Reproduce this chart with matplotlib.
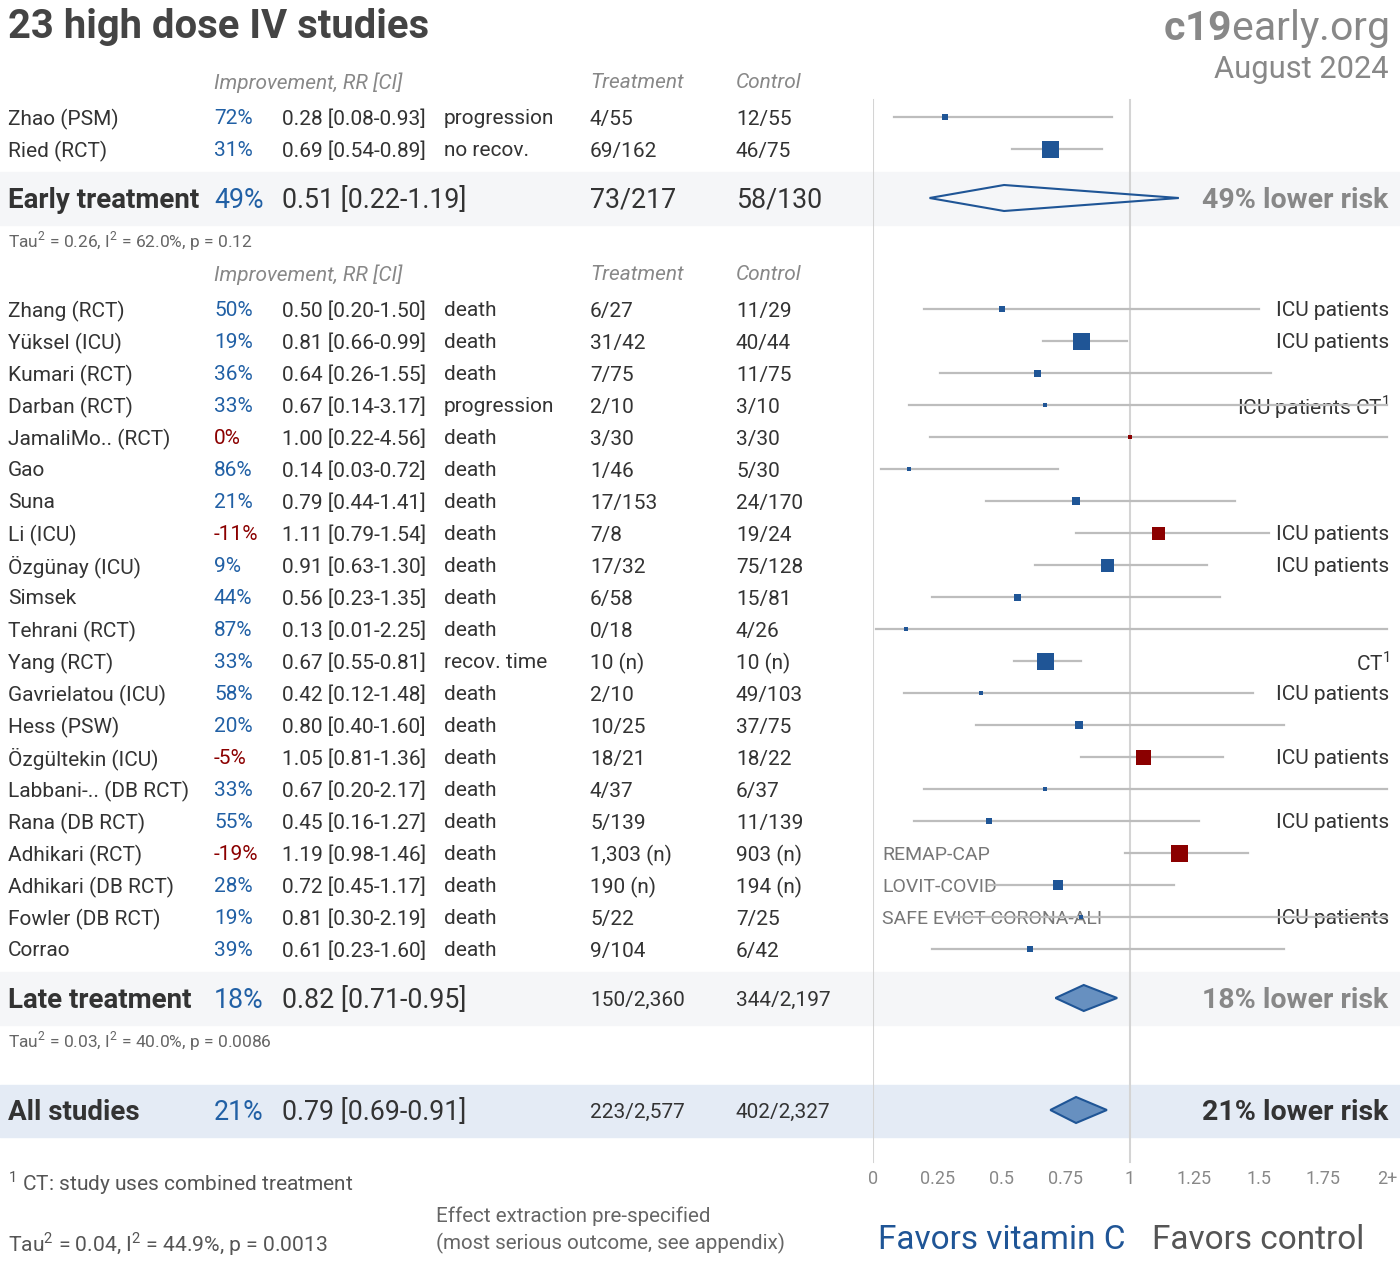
import matplotlib.pyplot as plt

plt.rcParams['font.family'] = ['Roboto', 'DejaVu Sans']
plt.rcParams['mathtext.fontset'] = 'custom'
plt.rcParams['mathtext.rm'] = 'Roboto'
plt.rcParams['mathtext.bf'] = 'Roboto:bold'

# early treatment studies
early_names = ['Zhao (PSM)', 'Ried (RCT)']
early_rr = [0.28, 0.69]
early_lo = [0.08, 0.54]
early_hi = [0.93, 0.89]
early_outcome = ['progression', 'no recov.']
early_treat = ['4/55', '69/162']
early_ctrl = ['12/55', '46/75']

# late treatment studies
late_names = ['Zhang (RCT)', 'Yüksel (ICU)', 'Kumari (RCT)', 'Darban (RCT)',
              'JamaliMo.. (RCT)', 'Gao', 'Suna', 'Li (ICU)', 'Özgünay (ICU)',
              'Simsek', 'Tehrani (RCT)', 'Yang (RCT)', 'Gavrielatou (ICU)',
              'Hess (PSW)', 'Özgültekin (ICU)', 'Labbani-.. (DB RCT)',
              'Rana (DB RCT)', 'Adhikari (RCT)', 'Adhikari (DB RCT)',
              'Fowler (DB RCT)', 'Corrao']
late_rr = [0.50, 0.81, 0.64, 0.67, 1.00, 0.14, 0.79, 1.11, 0.91, 0.56, 0.13,
           0.67, 0.42, 0.80, 1.05, 0.67, 0.45, 1.19, 0.72, 0.81, 0.61]
late_lo = [0.20, 0.66, 0.26, 0.14, 0.22, 0.03, 0.44, 0.79, 0.63, 0.23, 0.01,
           0.55, 0.12, 0.40, 0.81, 0.20, 0.16, 0.98, 0.45, 0.30, 0.23]
late_hi = [1.50, 0.99, 1.55, 3.17, 4.56, 0.72, 1.41, 1.54, 1.30, 1.35, 2.25,
           0.81, 1.48, 1.60, 1.36, 2.17, 1.27, 1.46, 1.17, 2.19, 1.60]
late_outcome = ['death', 'death', 'death', 'progression', 'death', 'death',
                'death', 'death', 'death', 'death', 'death', 'recov. time',
                'death', 'death', 'death', 'death', 'death', 'death', 'death',
                'death', 'death']
late_treat = ['6/27', '31/42', '7/75', '2/10', '3/30', '1/46', '17/153', '7/8',
              '17/32', '6/58', '0/18', '10 (n)', '2/10', '10/25', '18/21',
              '4/37', '5/139', '1,303 (n)', '190 (n)', '5/22', '9/104']
late_ctrl = ['11/29', '40/44', '11/75', '3/10', '3/30', '5/30', '24/170',
             '19/24', '75/128', '15/81', '4/26', '10 (n)', '49/103', '37/75',
             '18/22', '6/37', '11/139', '903 (n)', '194 (n)', '7/25', '6/42']
late_note_right = ['ICU patients', 'ICU patients', '', 'ICU patients CT$^1$', '',
                   '', '', 'ICU patients', 'ICU patients', '', '', 'CT$^1$',
                   'ICU patients', '', 'ICU patients', '', 'ICU patients', '',
                   '', 'ICU patients', '']
late_note_left = [''] * 17 + ['REMAP-CAP', 'LOVIT-COVID',
                              'SAFE EVICT CORONA-ALI', '']

# pooled results
pooled_labels = ['Early treatment', 'Late treatment', 'All studies']
pooled_rr = [0.51, 0.82, 0.79]
pooled_lo = [0.22, 0.71, 0.69]
pooled_hi = [1.19, 0.95, 0.91]
pooled_treat = ['73/217', '150/2,360', '223/2,577']
pooled_ctrl = ['58/130', '344/2,197', '402/2,327']
pooled_stats = ['Tau$^2$ = 0.26, I$^2$ = 62.0%, p = 0.12',
                'Tau$^2$ = 0.03, I$^2$ = 40.0%, p = 0.0086',
                'Tau$^2$ = 0.04, I$^2$ = 44.9%, p = 0.0013']

tick_vals = [0, 0.25, 0.5, 0.75, 1, 1.25, 1.5, 1.75, 2]
tick_labels = ['0', '0.25', '0.5', '0.75', '1', '1.25', '1.5', '1.75', '2+']

# box side in pixels (study weight)
early_box = [6, 17]
late_box = [6, 17, 7, 5, 5, 5, 8, 13, 13, 7, 4, 17, 5, 8, 15, 5, 6, 17, 10, 5, 6]

BLUE = '#1f5596'
PCT_BLUE = '#2160a5'
RED = '#8b0000'
DARK = '#333333'
GRAY = '#888888'
LINE = '#bdbdbd'

W, H = 1400, 1261
fig = plt.figure(figsize=(W / 100, H / 100), dpi=100)
ax = fig.add_axes([0, 0, 1, 1])
ax.set_xlim(0, W)
ax.set_ylim(H, 0)
ax.axis('off')

fx = fig.add_axes([873 / W, 0, 514 / W, 1])
fx.set_xlim(0, 2)
fx.set_ylim(H, 0)
fx.axis('off')
fx.patch.set_visible(False)


def txt(x, y, s, **kw):
    # text sits ~2px low in the original, relative to row centre
    kw.setdefault('va', 'center')
    return ax.text(x, y + 2, s, **kw)


# title / logo
txt(8, 25, '23 high dose IV studies', fontsize=28.8, fontweight='bold',
    color='#444444')
txt(1389, 26, r'$\mathbf{c19}$early.org', fontsize=29.5, color=GRAY, ha='right')
txt(1389, 67, 'August 2024', fontsize=22.2, color=GRAY, ha='right')

# bands
ax.axhspan(172, 225, color='#f5f6f8', zorder=0)
ax.axhspan(972, 1025, color='#f5f6f8', zorder=0)
ax.axhspan(1085, 1137, color='#e4ebf5', zorder=0)

# reference lines
fx.plot([0, 0], [100, 1162], color='#d4d4d4', lw=1.5, zorder=1)
fx.plot([1, 1], [100, 1162], color='#d4d4d4', lw=1.5, zorder=1)

cols = [214, 282, 444, 590, 736]


def header(y):
    for x, s in zip([cols[0], cols[3], cols[4]],
                    ['Improvement, RR [CI]', 'Treatment', 'Control']):
        txt(x, y, s, fontsize=15, fontstyle='italic', color=GRAY)


def study_rows(y0, names, rr, lo, hi, outcome, treat, ctrl, box):
    for i, name in enumerate(names):
        y = y0 + 32 * i
        pct = round((1 - rr[i]) * 100)
        txt(8, y, name, fontsize=15, color=DARK)
        txt(cols[0], y, f'{pct}%', fontsize=15,
            color=PCT_BLUE if pct > 0 else RED)
        txt(cols[1], y, f'{rr[i]:.2f} [{lo[i]:.2f}-{hi[i]:.2f}]',
            fontsize=15, color=DARK)
        txt(cols[2], y, outcome[i], fontsize=15, color=DARK)
        txt(cols[3], y, treat[i], fontsize=15, color=DARK)
        txt(cols[4], y, ctrl[i], fontsize=15, color=DARK)
        fx.plot([lo[i], min(hi[i], 2)], [y, y], color=LINE, lw=1.6, zorder=2,
                clip_on=False)
        fx.plot([rr[i]], [y], marker='s', ms=box[i] * 0.72, mew=0,
                color=RED if rr[i] >= 1 else BLUE, zorder=3)


def pooled(k, y, big_counts, filled, strong):
    txt(8, y, pooled_labels[k], fontsize=20, fontweight='bold', color=DARK)
    pct = round((1 - pooled_rr[k]) * 100)
    txt(cols[0], y, f'{pct}%', fontsize=19.3, color=PCT_BLUE)
    txt(cols[1], y,
        f'{pooled_rr[k]:.2f} [{pooled_lo[k]:.2f}-{pooled_hi[k]:.2f}]',
        fontsize=19.3, color=DARK)
    fs = 19.3 if big_counts else 15
    txt(cols[3], y, pooled_treat[k], fontsize=fs, color=DARK)
    txt(cols[4], y, pooled_ctrl[k], fontsize=fs, color=DARK)
    txt(1388, y, f'{pct}% lower risk', fontsize=20.5, fontweight='bold',
        color=DARK if strong else GRAY, ha='right')
    dx = [pooled_lo[k], pooled_rr[k], pooled_hi[k], pooled_rr[k]]
    dy = [y, y - 13, y, y + 13]
    fx.fill(dx, dy, facecolor='#6790c0' if filled else 'none', edgecolor=BLUE,
            lw=1.5, zorder=4, clip_on=False)


header(81)
study_rows(117, early_names, early_rr, early_lo, early_hi, early_outcome,
           early_treat, early_ctrl, early_box)
pooled(0, 198, True, False, False)
txt(8, 239, pooled_stats[0], fontsize=12.5, color='#666666')

header(273)
study_rows(309, late_names, late_rr, late_lo, late_hi, late_outcome,
           late_treat, late_ctrl, late_box)
for i in range(len(late_names)):
    y = 309 + 32 * i
    if late_note_right[i]:
        txt(1389, y, late_note_right[i], fontsize=15, color=DARK, ha='right')
    if late_note_left[i]:
        txt(882, y, late_note_left[i], fontsize=14, color='#777777')
pooled(1, 998, False, True, False)
txt(8, 1039, pooled_stats[1], fontsize=12.5, color='#666666')
pooled(2, 1110, False, True, True)

# axis tick labels
for v, lab in zip(tick_vals, tick_labels):
    fx.text(v, 1179, lab, fontsize=13, color=GRAY, ha='center', va='center')

# footer
txt(8, 1181, '$^1$ CT: study uses combined treatment', fontsize=15,
    color='#555555')
txt(8, 1242, pooled_stats[2], fontsize=15.2, color='#555555')
txt(436, 1214, 'Effect extraction pre-specified', fontsize=14.8, color='#666666')
txt(436, 1241, '(most serious outcome, see appendix)', fontsize=14.8,
    color='#666666')
fx.text(0.5, 1240, 'Favors vitamin C', fontsize=24, color=BLUE, ha='center',
        va='center')
fx.text(1.5, 1240, 'Favors control', fontsize=24, color='#555555', ha='center',
        va='center')

fig.savefig('out.png', dpi=100)
